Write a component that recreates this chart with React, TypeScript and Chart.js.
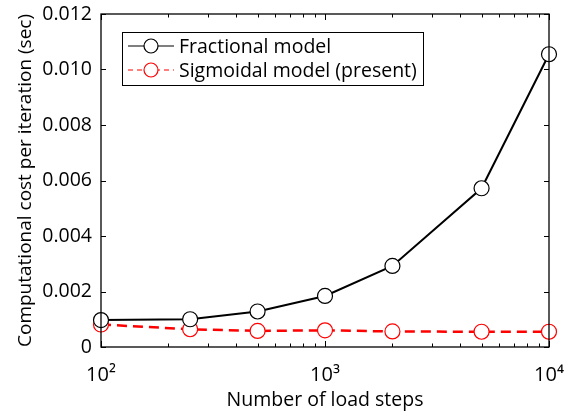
import React, { useEffect, useRef } from "react";
import { Chart, registerables } from "chart.js";
Chart.register(...registerables);

const loadSteps = [100, 250, 500, 1000, 2000, 5000, 10000];
const fractional = [0.00097, 0.001, 0.00128, 0.00184, 0.00292, 0.00572, 0.01055];
const sigmoidal = [0.00081, 0.00064, 0.00058, 0.0006, 0.00056, 0.00055, 0.00055];
const yTicks = [0, 0.002, 0.004, 0.006, 0.008, 0.01, 0.012];
const xMajor = [100, 1000, 10000];
const xMajorLabels = ["10²", "10³", "10⁴"];
const legendLabels = ["Fractional model", "Sigmoidal model (present)"];
const xTitle = "Number of load steps";
const yTitle = "Computational cost per iteration (sec)";

const FONT = "'Open Sans', sans-serif";

const framePlugin = {
  id: "frame",
  afterDraw(chart: any) {
    const { ctx, chartArea: a } = chart;
    const xs = chart.scales.x;
    const ys = chart.scales.y;
    ctx.save();
    ctx.strokeStyle = "#000";
    ctx.lineWidth = 1.3;
    ctx.strokeRect(a.left, a.top, a.right - a.left, a.bottom - a.top);
    ctx.lineWidth = 1;
    ctx.beginPath();
    yTicks.forEach((v) => {
      const p = Math.round(ys.getPixelForValue(v)) + 0.5;
      ctx.moveTo(a.left, p); ctx.lineTo(a.left + 5, p);
      ctx.moveTo(a.right, p); ctx.lineTo(a.right - 5, p);
    });
    for (let d = 100; d < 10000; d *= 10) {
      for (let k = 1; k <= 10; k++) {
        const v = d * k;
        if (v > 10000) break;
        const p = Math.round(xs.getPixelForValue(v)) + 0.5;
        const len = k === 1 || k === 10 ? 6 : 3.5;
        ctx.moveTo(p, a.bottom); ctx.lineTo(p, a.bottom - len);
        ctx.moveTo(p, a.top); ctx.lineTo(p, a.top + len);
      }
    }
    ctx.stroke();

    // legend
    const lx = 122, ly = 32, lw = 301, lh = 53;
    ctx.fillStyle = "#fff";
    ctx.fillRect(lx, ly, lw, lh);
    ctx.lineWidth = 1;
    ctx.strokeStyle = "#000";
    ctx.strokeRect(lx + 0.5, ly + 0.5, lw, lh);
    chart.data.datasets.forEach((ds: any, i: number) => {
      const y = ly + 14 + i * 24;
      ctx.strokeStyle = ds.borderColor;
      ctx.lineWidth = 1.2;
      ctx.setLineDash(ds.borderDash ? [5, 4] : []);
      ctx.beginPath();
      ctx.moveTo(lx + 6, y); ctx.lineTo(lx + 52, y);
      ctx.stroke();
      ctx.setLineDash([]);
      ctx.beginPath();
      ctx.arc(lx + 29, y, 7, 0, Math.PI * 2);
      ctx.fillStyle = "#fff";
      ctx.fill();
      ctx.strokeStyle = ds.pointBorderColor;
      ctx.lineWidth = 1.2;
      ctx.stroke();
      ctx.fillStyle = "#000";
      ctx.font = `19.5px ${FONT}`;
      ctx.textBaseline = "middle";
      ctx.textAlign = "left";
      ctx.fillText(ds.label, lx + 57, y + 1);
    });
    ctx.restore();
  },
};

export default function App() {
  const ref = useRef<HTMLCanvasElement>(null);
  useEffect(() => {
    const chart = new Chart(ref.current!, {
      type: "line",
      data: {
        labels: loadSteps,
        datasets: [
          {
            label: legendLabels[0],
            data: loadSteps.map((x, i) => ({ x, y: fractional[i] })),
            borderColor: "#000",
            borderWidth: 2,
            pointRadius: 7.5,
            pointBackgroundColor: "#fff",
            pointBorderColor: "#000",
            pointBorderWidth: 1.2,
          },
          {
            label: legendLabels[1],
            data: loadSteps.map((x, i) => ({ x, y: sigmoidal[i] })),
            borderColor: "#ff0000",
            borderWidth: 2.5,
            borderDash: [10, 6],
            pointRadius: 7.5,
            pointBackgroundColor: "#fff",
            pointBorderColor: "#ff0000",
            pointBorderWidth: 1.2,
          },
        ],
      },
      options: {
        animation: false,
        responsive: false,
        clip: false as any,
        layout: { padding: { left: 0, top: 14, right: 15, bottom: 0 } },
        plugins: { legend: { display: false }, tooltip: { enabled: false } },
        scales: {
          x: {
            type: "logarithmic",
            min: 100,
            max: 10000,
            afterBuildTicks: (s: any) => {
              s.ticks = xMajor.map((v) => ({ value: v }));
            },
            afterFit: (s: any) => {
              s.height = 66;
              s.paddingLeft = 0;
              s.paddingRight = 0;
            },
            grid: { display: false, drawTicks: false },
            border: { display: false },
            ticks: {
              autoSkip: false,
              maxRotation: 0,
              padding: 16,
              color: "#000",
              font: { family: FONT, size: 20 },
              callback: (v: any) => {
                const i = xMajor.indexOf(Number(v));
                return i >= 0 ? xMajorLabels[i] : "";
              },
            },
            title: {
              display: true,
              text: xTitle,
              color: "#000",
              font: { family: FONT, size: 19.5 },
              padding: { top: 0, bottom: 1 },
            },
          },
          y: {
            type: "linear",
            min: 0,
            max: 0.012,
            afterBuildTicks: (s: any) => {
              s.ticks = yTicks.map((v) => ({ value: v }));
            },
            afterFit: (s: any) => {
              s.width = 101;
              s.paddingTop = 0;
              s.paddingBottom = 0;
            },
            grid: { display: false, drawTicks: false },
            border: { display: false },
            ticks: {
              padding: 9,
              color: "#000",
              font: { family: FONT, size: 19.5 },
              callback: (v: any) => (Number(v) === 0 ? "0" : Number(v).toFixed(3)),
            },
            title: {
              display: true,
              text: yTitle,
              color: "#000",
              font: { family: FONT, size: 19 },
              padding: { top: 14, bottom: 0 },
            },
          },
        },
      },
      plugins: [framePlugin],
    });
    return () => chart.destroy();
  }, []);
  return (
    <div style={{ position: "absolute", left: 0, top: 0, width: 564, height: 413, background: "#fff" }}>
      <canvas ref={ref} width={564} height={413} />
    </div>
  );
}
